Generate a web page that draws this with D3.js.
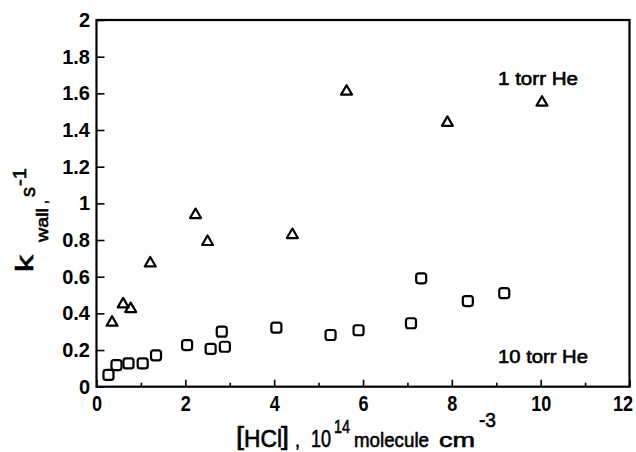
<!DOCTYPE html>
<html><head><meta charset="utf-8">
<script src="https://cdn.jsdelivr.net/npm/d3@7"></script>
<style>
body{margin:0;background:#fff;}
text{font-family:"Liberation Sans",Arial,sans-serif;fill:#000;}
</style></head>
<body>
<svg id="c" width="636" height="452"></svg>
<script>
// 1 torr He (triangles)
const torr1X = [0.35, 0.60, 0.77, 1.21, 2.23, 2.50, 4.41, 5.63, 7.90, 10.03];
const torr1Y = [0.35, 0.45, 0.424, 0.673, 0.937, 0.79, 0.828, 1.61, 1.44, 1.55];
// 10 torr He (squares)
const torr10X = [0.27, 0.45, 0.72, 1.04, 1.34, 2.04, 2.57, 2.82, 2.89, 4.05, 5.27, 5.90, 7.08, 7.31, 8.36, 9.18];
const torr10Y = [0.064, 0.118, 0.127, 0.127, 0.171, 0.227, 0.206, 0.30, 0.218, 0.322, 0.282, 0.308, 0.346, 0.591, 0.467, 0.51];
const xTicks = [0, 2, 4, 6, 8, 10, 12];
const xMinor = [1, 3, 5, 7, 9, 11];
const yTicks = [0, 0.2, 0.4, 0.6, 0.8, 1, 1.2, 1.4, 1.6, 1.8, 2];
const yTickLabels = ["0", "0.2", "0.4", "0.6", "0.8", "1", "1.2", "1.4", "1.6", "1.8", "2"];

const svg = d3.select("#c");
const x = d3.scaleLinear().domain([0, 12]).range([96.5, 629.5]);
const y = d3.scaleLinear().domain([0, 2]).range([386.7, 20]);

function condense(sel, f) {
  sel.each(function () {
    const w = this.getComputedTextLength();
    d3.select(this).attr("textLength", w * f).attr("lengthAdjust", "spacingAndGlyphs");
  });
}

// frame
svg.append("rect").attr("x", x(0)).attr("y", y(2))
  .attr("width", x(12) - x(0)).attr("height", y(0) - y(2))
  .attr("fill", "none").attr("stroke", "#000").attr("stroke-width", 2.2);

// x axis ticks (inward)
const xAxis = d3.axisBottom(x).tickValues(xTicks).tickSizeInner(-7).tickSizeOuter(0).tickPadding(9)
  .tickFormat(d3.format("d"));
const gx = svg.append("g").attr("transform", `translate(0,${y(0)})`).call(xAxis);
gx.select(".domain").remove();
gx.selectAll("line").attr("stroke-width", 1.6);
gx.selectAll("text").attr("font-size", 22).attr("font-weight", "bold").attr("dy", "0.71em")
  .attr("dx", d => d === 12 ? -7 : 0);
condense(gx.selectAll("text"), 0.82);
const xMin = d3.axisBottom(x).tickValues(xMinor).tickSizeInner(-4).tickSizeOuter(0).tickFormat("");
const gxm = svg.append("g").attr("transform", `translate(0,${y(0)})`).call(xMin);
gxm.select(".domain").remove();
gxm.selectAll("line").attr("stroke-width", 1.6);

// y axis ticks (inward)
const yAxis = d3.axisLeft(y).tickValues(yTicks).tickSizeInner(-8).tickSizeOuter(0).tickPadding(6.5)
  .tickFormat((d, i) => yTickLabels[i]);
const gy = svg.append("g").attr("transform", `translate(${x(0)},0)`).call(yAxis);
gy.select(".domain").remove();
gy.selectAll("line").attr("stroke-width", 1.6);
gy.selectAll("text").attr("font-size", 20).attr("font-weight", "bold");

// markers
const tri = d3.symbol().type(d3.symbolTriangle).size(52);
svg.append("g").selectAll("path").data(torr1X.map((v, i) => [v, torr1Y[i]])).join("path")
  .attr("d", tri).attr("transform", d => `translate(${x(d[0])},${y(d[1])})`)
  .attr("fill", "none").attr("stroke", "#000").attr("stroke-width", 2.2).attr("stroke-linejoin", "round");
svg.append("g").selectAll("rect").data(torr10X.map((v, i) => [v, torr10Y[i]])).join("rect")
  .attr("x", d => x(d[0]) - 5).attr("y", d => y(d[1]) - 5).attr("width", 10).attr("height", 10)
  .attr("rx", 2.5).attr("fill", "none").attr("stroke", "#000").attr("stroke-width", 2.2);

// text helpers (medium weight: regular glyphs with a thin outline)
function label(txt, px, py, size, len) {
  const t = svg.append("text").attr("x", px).attr("y", py).attr("font-size", size)
    .attr("stroke", "#000").attr("stroke-width", 0.6).text(txt);
  if (len) t.attr("textLength", len).attr("lengthAdjust", "spacingAndGlyphs");
  return t;
}
function vlabel(txt, px, py, size, len) {
  const t = svg.append("text").attr("transform", `translate(${px},${py}) rotate(-90)`)
    .attr("font-size", size).attr("stroke", "#000").attr("stroke-width", 0.6).text(txt);
  if (len) t.attr("textLength", len).attr("lengthAdjust", "spacingAndGlyphs");
  return t;
}

// annotations
label("1 torr He", 498, 85, 18, 80);
label("10 torr He", 498, 363, 18, 90);

// x label
label("[", 236, 445, 25, 8);
label("HCl", 244, 447, 23, 38);
label("]", 281, 445, 25, 8);
label(",", 295, 447, 20, 5);
label("10", 311, 447, 23, 20);
label("14", 334, 433, 19, 16);
label("molecule", 354, 447, 21, 75);
label("cm", 439, 447, 21, 36);
label("-3", 479, 427, 20, 17);

// y label (rotated pieces)
vlabel("k", 33, 272, 23, 17);
vlabel("wall", 48, 242, 17, 34);
vlabel(",", 47, 204, 17, 4);
vlabel("s", 35, 197, 20, 10);
vlabel("-1", 26, 186, 19, 18);
</script>
</body></html>
